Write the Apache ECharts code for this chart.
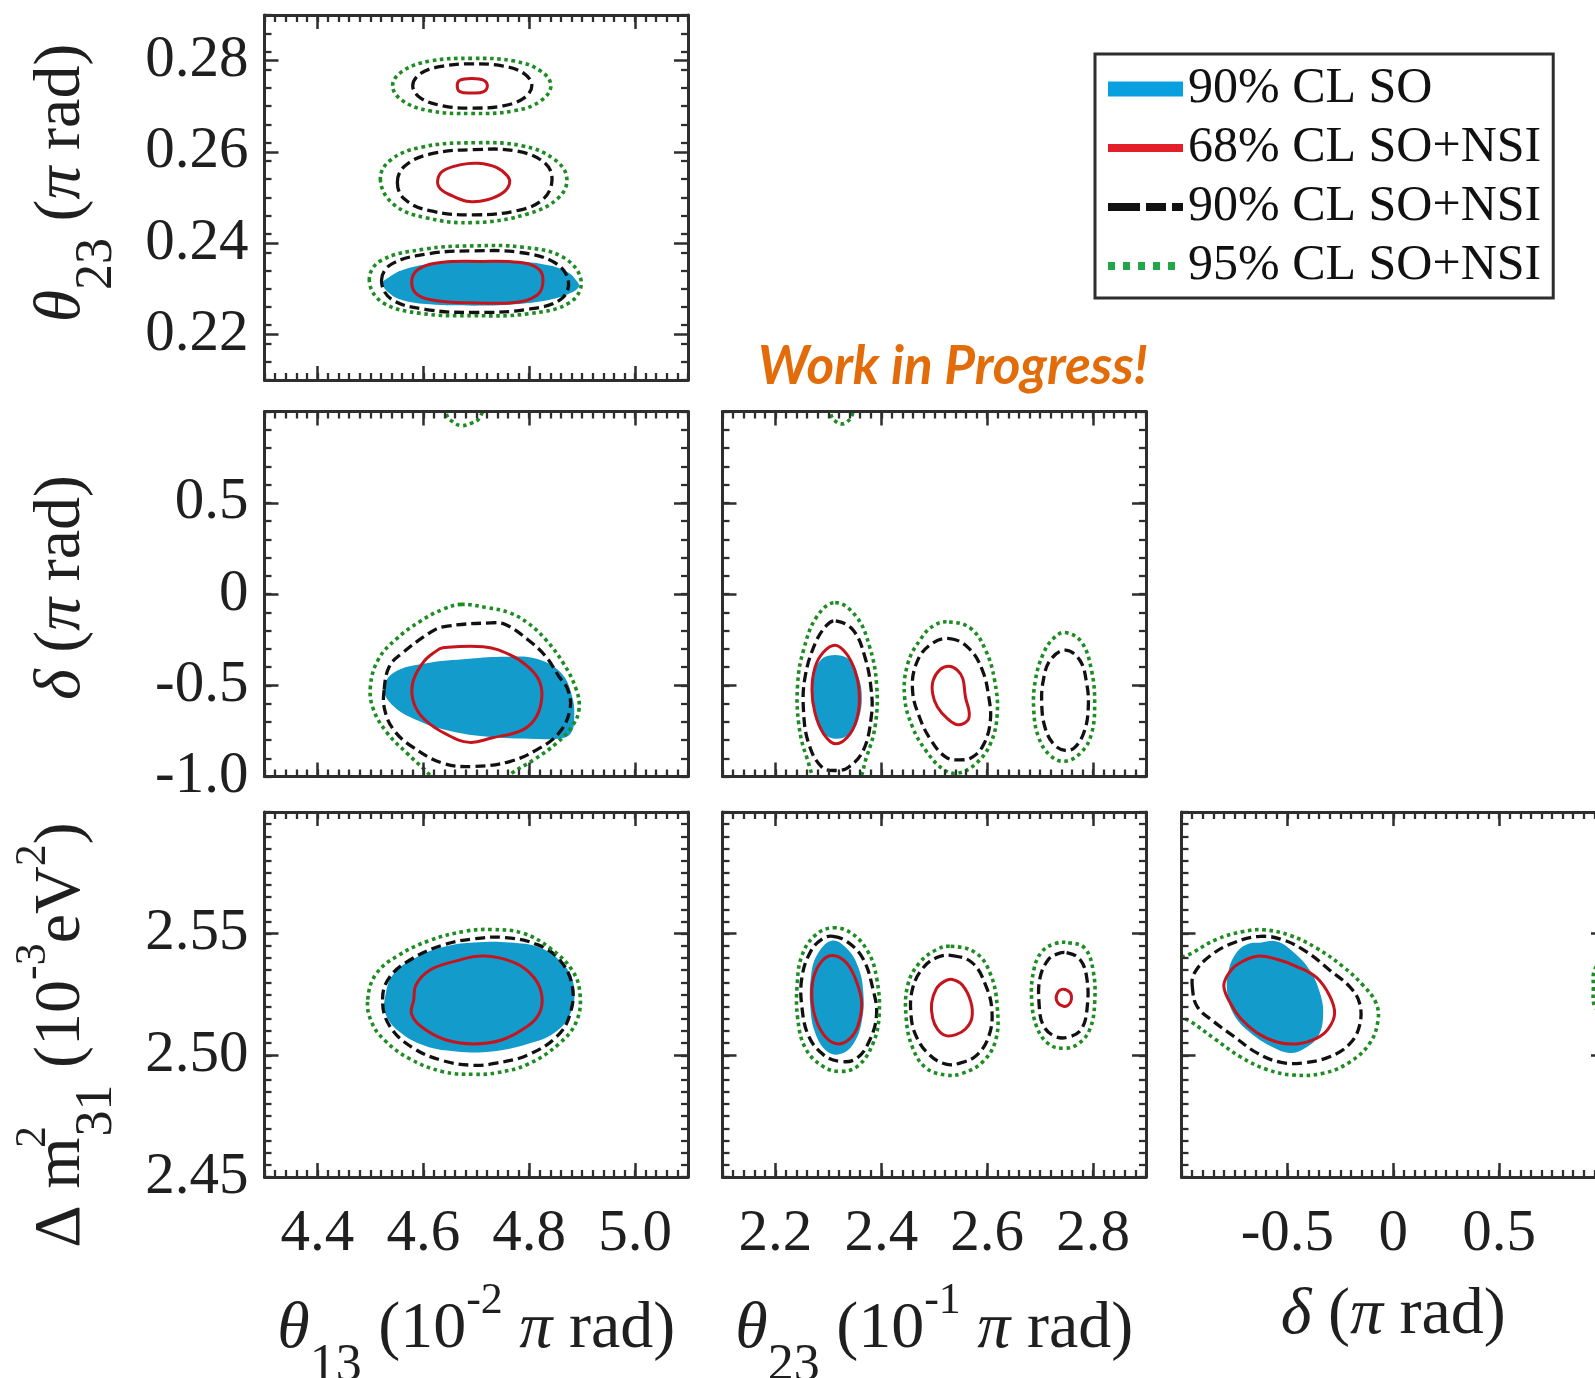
<!DOCTYPE html>
<html>
<head>
<meta charset="utf-8">
<title>Oscillation parameter correlations, SO vs SO+NSI</title>
<script src="https://cdn.jsdelivr.net/npm/echarts@6/dist/echarts.min.js"></script>
<style>
  html, body { margin: 0; padding: 0; background: #ffffff; }
  #chart { width: 1595px; height: 1378px; }
</style>
</head>
<body>
<div id="chart"></div>
<script>
// ---------------------------------------------------------------------------
// Axis ranges
// ---------------------------------------------------------------------------
const theta13Range = [4.3, 5.1];      // theta13 in 10^-2 pi rad
const theta23Range = [0.21, 0.29];    // theta23 in pi rad
const theta23TenthRange = [2.1, 2.9]; // theta23 in 10^-1 pi rad
const deltaRange = [-1, 1];           // delta in pi rad
const dm31Range = [2.45, 2.60];       // dm^2_31 in 10^-3 eV^2

// Major ticks and their labels
const theta13Ticks = [4.4, 4.6, 4.8, 5.0];
const theta13Labels = ['4.4', '4.6', '4.8', '5.0'];
const theta23Ticks = [0.22, 0.24, 0.26, 0.28];
const theta23Labels = ['0.22', '0.24', '0.26', '0.28'];
const theta23TenthTicks = [2.2, 2.4, 2.6, 2.8];
const theta23TenthLabels = ['2.2', '2.4', '2.6', '2.8'];
const deltaMajorTicks = [-1, -0.5, 0, 0.5, 1];
const deltaYLabelTicks = [-1, -0.5, 0, 0.5];
const deltaYLabels = ['-1.0', '-0.5', '0', '0.5'];
const deltaXLabelTicks = [-0.5, 0, 0.5];
const deltaXLabels = ['-0.5', '0', '0.5'];
const dm31MajorTicks = [2.45, 2.50, 2.55, 2.60];
const dm31LabelTicks = [2.45, 2.50, 2.55];
const dm31Labels = ['2.45', '2.50', '2.55'];

// Minor tick spacing per quantity
const theta13MinorStep = 0.02;
const theta23MinorStep = 0.004;
const theta23TenthMinorStep = 0.02;
const deltaYMinorStep = 0.1;
const deltaXMinorStep = 0.05;
const dm31MinorStep = 0.005;

// ---------------------------------------------------------------------------
// Confidence-region boundaries, [x, y] in axis units
// ---------------------------------------------------------------------------

// theta23 (pi rad) vs theta13 (10^-2 pi rad)
const t23t13_SO90 = [[4.523,0.2312],[4.536,0.2326],[4.561,0.2341],[4.612,0.2354],[4.696,0.2361],[4.780,0.2360],[4.839,0.2351],[4.873,0.2336],[4.889,0.2318],[4.894,0.2305],[4.877,0.2290],[4.839,0.2276],[4.772,0.2266],[4.696,0.2263],[4.612,0.2266],[4.561,0.2275],[4.536,0.2290]];
const t23t13_NSI68_low = [[4.578,0.2314],[4.591,0.2343],[4.637,0.2358],[4.704,0.2360],[4.780,0.2358],[4.818,0.2343],[4.826,0.2314],[4.814,0.2285],[4.772,0.2270],[4.704,0.2269],[4.637,0.2272],[4.591,0.2285]];
const t23t13_NSI68_mid = [[4.627,0.2537],[4.637,0.2558],[4.671,0.2572],[4.704,0.2575],[4.738,0.2566],[4.759,0.2547],[4.763,0.2531],[4.751,0.2511],[4.721,0.2495],[4.687,0.2491],[4.654,0.2504],[4.633,0.2518]];
const t23t13_NSI68_high = [[4.664,0.2745],[4.669,0.2757],[4.692,0.2761],[4.714,0.2757],[4.721,0.2745],[4.714,0.2732],[4.692,0.2729],[4.669,0.2732]];
const t23t13_NSI90_low = [[4.521,0.2318],[4.540,0.2354],[4.612,0.2377],[4.696,0.2383],[4.780,0.2380],[4.847,0.2358],[4.874,0.2318],[4.860,0.2277],[4.797,0.2255],[4.696,0.2248],[4.603,0.2255],[4.540,0.2277]];
const t23t13_NSI90_mid = [[4.551,0.2533],[4.565,0.2569],[4.612,0.2595],[4.696,0.2605],[4.780,0.2601],[4.831,0.2574],[4.843,0.2537],[4.826,0.2496],[4.780,0.2472],[4.696,0.2462],[4.612,0.2471],[4.565,0.2496]];
const t23t13_NSI90_high = [[4.580,0.2745],[4.595,0.2772],[4.637,0.2788],[4.692,0.2793],[4.751,0.2788],[4.790,0.2772],[4.805,0.2745],[4.790,0.2718],[4.751,0.2701],[4.692,0.2696],[4.637,0.2701],[4.595,0.2718]];
const t23t13_NSI95_low = [[4.498,0.2318],[4.519,0.2361],[4.603,0.2387],[4.696,0.2394],[4.788,0.2391],[4.864,0.2369],[4.898,0.2318],[4.877,0.2270],[4.797,0.2245],[4.696,0.2241],[4.595,0.2246],[4.523,0.2270]];
const t23t13_NSI95_mid = [[4.519,0.2537],[4.536,0.2580],[4.595,0.2610],[4.696,0.2620],[4.788,0.2613],[4.847,0.2584],[4.871,0.2544],[4.856,0.2500],[4.797,0.2464],[4.696,0.2445],[4.603,0.2456],[4.544,0.2485]];
const t23t13_NSI95_high = [[4.542,0.2745],[4.561,0.2777],[4.612,0.2799],[4.692,0.2805],[4.772,0.2799],[4.822,0.2777],[4.841,0.2745],[4.822,0.2712],[4.772,0.2690],[4.692,0.2684],[4.612,0.2690],[4.561,0.2712]];

// delta (pi rad) vs theta13 (10^-2 pi rad)
const dt13_SO90 = [[4.526,-0.524],[4.544,-0.432],[4.603,-0.381],[4.687,-0.355],[4.755,-0.344],[4.814,-0.355],[4.860,-0.432],[4.881,-0.560],[4.885,-0.690],[4.879,-0.762],[4.864,-0.789],[4.814,-0.795],[4.713,-0.780],[4.645,-0.747],[4.586,-0.689],[4.544,-0.615]];
const dt13_NSI68 = [[4.637,-0.295],[4.713,-0.289],[4.763,-0.332],[4.797,-0.396],[4.818,-0.469],[4.824,-0.560],[4.814,-0.670],[4.788,-0.744],[4.729,-0.789],[4.687,-0.813],[4.645,-0.771],[4.603,-0.689],[4.582,-0.597],[4.580,-0.487],[4.599,-0.377],[4.624,-0.313]];
const dt13_NSI90 = [[4.526,-0.524],[4.536,-0.396],[4.561,-0.322],[4.612,-0.213],[4.637,-0.180],[4.729,-0.158],[4.755,-0.167],[4.797,-0.249],[4.831,-0.341],[4.856,-0.451],[4.873,-0.524],[4.877,-0.634],[4.856,-0.762],[4.814,-0.854],[4.763,-0.918],[4.696,-0.945],[4.637,-0.927],[4.578,-0.835],[4.544,-0.744],[4.527,-0.634]];
const dt13_NSI95 = [[4.671,-0.057],[4.721,-0.075],[4.763,-0.103],[4.797,-0.158],[4.831,-0.249],[4.864,-0.377],[4.889,-0.524],[4.894,-0.634],[4.881,-0.725],[4.852,-0.817],[4.809,-0.908],[4.767,-0.982],[4.746,-1.04],[4.633,-1.04],[4.603,-0.963],[4.569,-0.872],[4.532,-0.762],[4.506,-0.634],[4.500,-0.506],[4.515,-0.359],[4.548,-0.249],[4.595,-0.148],[4.637,-0.084]];
const dt13_NSI95_wrap = [[4.641,1.06],[4.645,0.975],[4.655,0.945],[4.671,0.923],[4.690,0.935],[4.706,0.965],[4.714,1.06]];

// delta (pi rad) vs theta23 (10^-1 pi rad)
const dt23_SO90 = [[2.269,-0.546],[2.273,-0.436],[2.284,-0.367],[2.300,-0.339],[2.325,-0.339],[2.344,-0.372],[2.356,-0.446],[2.363,-0.546],[2.359,-0.665],[2.344,-0.757],[2.317,-0.793],[2.292,-0.766],[2.277,-0.674]];
const dt23_NSI68_low = [[2.313,-0.281],[2.334,-0.327],[2.350,-0.418],[2.358,-0.528],[2.356,-0.656],[2.341,-0.766],[2.314,-0.821],[2.291,-0.766],[2.275,-0.656],[2.269,-0.528],[2.275,-0.400],[2.291,-0.318]];
const dt23_NSI68_mid = [[2.528,-0.396],[2.544,-0.418],[2.554,-0.464],[2.559,-0.565],[2.566,-0.647],[2.563,-0.693],[2.544,-0.716],[2.525,-0.683],[2.506,-0.619],[2.497,-0.546],[2.498,-0.473],[2.511,-0.414]];
const dt23_NSI90_low = [[2.314,-0.147],[2.347,-0.199],[2.369,-0.345],[2.381,-0.528],[2.381,-0.674],[2.366,-0.857],[2.338,-0.949],[2.316,-0.967],[2.288,-0.949],[2.263,-0.821],[2.253,-0.638],[2.256,-0.455],[2.275,-0.272],[2.297,-0.171]];
const dt23_NSI90_mid = [[2.529,-0.244],[2.566,-0.299],[2.591,-0.418],[2.603,-0.565],[2.606,-0.693],[2.594,-0.821],[2.572,-0.894],[2.547,-0.909],[2.522,-0.894],[2.494,-0.802],[2.472,-0.674],[2.459,-0.528],[2.466,-0.382],[2.491,-0.281]];
const dt23_NSI90_high = [[2.747,-0.308],[2.775,-0.363],[2.788,-0.491],[2.791,-0.619],[2.784,-0.748],[2.766,-0.839],[2.747,-0.857],[2.725,-0.821],[2.709,-0.729],[2.703,-0.601],[2.706,-0.473],[2.719,-0.363]];
const dt23_NSI95_low = [[2.313,-0.047],[2.353,-0.125],[2.378,-0.290],[2.391,-0.491],[2.389,-0.711],[2.372,-0.894],[2.350,-1.04],[2.284,-1.04],[2.259,-0.894],[2.244,-0.711],[2.242,-0.491],[2.253,-0.308],[2.278,-0.125]];
const dt23_NSI95_lowWrap = [[2.303,1.06],[2.306,0.973],[2.316,0.941],[2.325,0.932],[2.334,0.941],[2.344,0.973],[2.347,1.06]];
const dt23_NSI95_mid = [[2.528,-0.153],[2.569,-0.189],[2.597,-0.308],[2.614,-0.473],[2.619,-0.656],[2.606,-0.821],[2.578,-0.931],[2.544,-0.982],[2.516,-0.958],[2.484,-0.857],[2.459,-0.729],[2.444,-0.565],[2.450,-0.382],[2.475,-0.244],[2.500,-0.171]];
const dt23_NSI95_high = [[2.747,-0.211],[2.778,-0.263],[2.797,-0.418],[2.803,-0.601],[2.797,-0.766],[2.778,-0.866],[2.747,-0.916],[2.719,-0.885],[2.697,-0.784],[2.688,-0.638],[2.691,-0.473],[2.706,-0.327],[2.725,-0.244]];

// dm^2_31 (10^-3 eV^2) vs theta13 (10^-2 pi rad)
const mt13_SO90 = [[4.527,2.5229],[4.544,2.5335],[4.595,2.5411],[4.645,2.5449],[4.696,2.5464],[4.763,2.5464],[4.822,2.5441],[4.868,2.5365],[4.885,2.5274],[4.877,2.5168],[4.847,2.5092],[4.797,2.5047],[4.729,2.5016],[4.662,2.5016],[4.603,2.5039],[4.553,2.5100],[4.529,2.5168]];
const mt13_NSI68 = [[4.586,2.5289],[4.612,2.5350],[4.662,2.5388],[4.713,2.5408],[4.772,2.5381],[4.809,2.5320],[4.824,2.5244],[4.818,2.5168],[4.788,2.5107],[4.746,2.5062],[4.696,2.5047],[4.645,2.5062],[4.603,2.5107],[4.578,2.5168],[4.582,2.5229]];
const mt13_NSI90 = [[4.523,2.5229],[4.536,2.5320],[4.578,2.5396],[4.637,2.5453],[4.696,2.5479],[4.755,2.5484],[4.814,2.5456],[4.856,2.5396],[4.881,2.5289],[4.877,2.5168],[4.852,2.5077],[4.797,2.5001],[4.738,2.4968],[4.696,2.4959],[4.637,2.4978],[4.578,2.5034],[4.536,2.5122]];
const mt13_NSI95 = [[4.495,2.5229],[4.511,2.5335],[4.553,2.5411],[4.612,2.5472],[4.679,2.5510],[4.729,2.5517],[4.788,2.5502],[4.839,2.5441],[4.881,2.5350],[4.896,2.5252],[4.889,2.5138],[4.856,2.5047],[4.797,2.4963],[4.738,2.4928],[4.696,2.4922],[4.637,2.4933],[4.574,2.4986],[4.527,2.5062],[4.502,2.5138]];

// dm^2_31 (10^-3 eV^2) vs theta23 (10^-1 pi rad)
const mt23_SO90 = [[2.306,2.5471],[2.334,2.5441],[2.356,2.5365],[2.366,2.5259],[2.363,2.5138],[2.347,2.5047],[2.322,2.5005],[2.297,2.5017],[2.275,2.5093],[2.266,2.5199],[2.267,2.5320],[2.278,2.5410]];
const mt23_NSI68_low = [[2.309,2.5410],[2.334,2.5380],[2.353,2.5304],[2.363,2.5214],[2.356,2.5123],[2.341,2.5070],[2.319,2.5047],[2.297,2.5070],[2.278,2.5138],[2.269,2.5229],[2.272,2.5320],[2.288,2.5388]];
const mt23_NSI68_mid = [[2.534,2.5312],[2.553,2.5289],[2.569,2.5221],[2.571,2.5153],[2.559,2.5108],[2.541,2.5085],[2.522,2.5081],[2.506,2.5108],[2.497,2.5153],[2.495,2.5214],[2.504,2.5274],[2.519,2.5304]];
const mt23_NSI68_high = [[2.741,2.5271],[2.756,2.5259],[2.759,2.5229],[2.753,2.5206],[2.744,2.5202],[2.733,2.5217],[2.731,2.5247]];
const mt23_NSI90_low = [[2.309,2.5489],[2.338,2.5463],[2.366,2.5395],[2.384,2.5274],[2.391,2.5168],[2.378,2.5062],[2.353,2.4987],[2.322,2.4975],[2.291,2.5002],[2.263,2.5078],[2.250,2.5199],[2.250,2.5320],[2.266,2.5425],[2.288,2.5478]];
const mt23_NSI90_mid = [[2.534,2.5410],[2.572,2.5380],[2.597,2.5289],[2.609,2.5183],[2.603,2.5078],[2.581,2.5002],[2.550,2.4969],[2.522,2.4964],[2.491,2.5002],[2.466,2.5078],[2.456,2.5168],[2.459,2.5274],[2.478,2.5357],[2.506,2.5403]];
const mt23_NSI90_high = [[2.750,2.5422],[2.775,2.5395],[2.788,2.5320],[2.789,2.5199],[2.778,2.5108],[2.753,2.5075],[2.728,2.5078],[2.706,2.5123],[2.698,2.5214],[2.700,2.5320],[2.716,2.5395],[2.734,2.5418]];
const mt23_NSI95_low = [[2.309,2.5524],[2.344,2.5501],[2.375,2.5425],[2.391,2.5320],[2.396,2.5168],[2.384,2.5047],[2.356,2.4957],[2.322,2.4934],[2.288,2.4957],[2.256,2.5032],[2.242,2.5153],[2.241,2.5289],[2.250,2.5410],[2.275,2.5493]];
const mt23_NSI95_mid = [[2.531,2.5448],[2.578,2.5422],[2.606,2.5335],[2.619,2.5199],[2.616,2.5062],[2.591,2.4972],[2.553,2.4926],[2.522,2.4919],[2.484,2.4949],[2.459,2.5032],[2.447,2.5153],[2.450,2.5289],[2.472,2.5380],[2.503,2.5433]];
const mt23_NSI95_high = [[2.753,2.5463],[2.784,2.5441],[2.800,2.5350],[2.803,2.5214],[2.794,2.5108],[2.772,2.5047],[2.744,2.5029],[2.716,2.5047],[2.694,2.5115],[2.684,2.5229],[2.688,2.5350],[2.703,2.5425],[2.728,2.5459]];

// dm^2_31 (10^-3 eV^2) vs delta (pi rad)
const md_SO90 = [[-0.628,2.5463],[-0.550,2.5468],[-0.472,2.5425],[-0.394,2.5350],[-0.347,2.5259],[-0.331,2.5168],[-0.355,2.5078],[-0.425,2.5025],[-0.488,2.5010],[-0.566,2.5032],[-0.675,2.5093],[-0.753,2.5168],[-0.784,2.5259],[-0.777,2.5350],[-0.738,2.5425],[-0.683,2.5459]];
const md_NSI68 = [[-0.800,2.5282],[-0.784,2.5327],[-0.738,2.5372],[-0.644,2.5407],[-0.550,2.5395],[-0.456,2.5365],[-0.363,2.5320],[-0.300,2.5244],[-0.277,2.5171],[-0.308,2.5108],[-0.363,2.5070],[-0.456,2.5047],[-0.550,2.5055],[-0.644,2.5093],[-0.722,2.5153],[-0.769,2.5214]];
const md_NSI90 = [[-0.948,2.5274],[-0.941,2.5335],[-0.863,2.5410],[-0.753,2.5463],[-0.628,2.5489],[-0.519,2.5474],[-0.409,2.5425],[-0.300,2.5350],[-0.206,2.5282],[-0.159,2.5214],[-0.159,2.5123],[-0.206,2.5047],[-0.300,2.4994],[-0.425,2.4969],[-0.534,2.4972],[-0.644,2.5010],[-0.753,2.5078],[-0.847,2.5138],[-0.925,2.5199]];
const md_NSI95 = [[-1.05,2.5365],[-0.941,2.5425],[-0.831,2.5478],[-0.706,2.5509],[-0.613,2.5516],[-0.488,2.5493],[-0.363,2.5441],[-0.238,2.5365],[-0.144,2.5289],[-0.081,2.5214],[-0.073,2.5138],[-0.113,2.5047],[-0.206,2.4972],[-0.331,2.4926],[-0.472,2.4919],[-0.597,2.4942],[-0.722,2.4994],[-0.847,2.5070],[-0.956,2.5138],[-1.05,2.5183]];
const md_NSI95_wrap = [[1.05,2.5388],[0.960,2.5365],[0.945,2.5280],[0.960,2.5190],[1.05,2.5176]];

// ---------------------------------------------------------------------------
// Styling
// ---------------------------------------------------------------------------
const SERIF = '"Liberation Serif", "Times New Roman", Times, serif';
const INK = '#1f1f1f';
const FRAME = '#2e2e2e';
const FILL_BLUE = '#139bcc';
const LINE_RED = '#c5141c';
const LINE_BLACK = '#111111';
const LINE_GREEN = '#1d8c22';

const NAMES = {
  so90: '90% CL SO',
  nsi68: '68% CL SO+NSI',
  nsi90: '90% CL SO+NSI',
  nsi95: '95% CL SO+NSI'
};

const CONTOUR_STYLE = {
  so90:  { z: 2, smooth: 0.4, style: { fill: FILL_BLUE, stroke: null } },
  nsi68: { z: 4, smooth: 0.4, style: { fill: 'none', stroke: LINE_RED, lineWidth: 3 } },
  nsi90: { z: 5, smooth: 0.4, style: { fill: 'none', stroke: LINE_BLACK, lineWidth: 3.3, lineDash: [10, 5] } },
  nsi95: { z: 6, smooth: 0.4, style: { fill: 'none', stroke: LINE_GREEN, lineWidth: 3.6, lineDash: [3.6, 3.6] } }
};
const SERIES_COLOR = { so90: FILL_BLUE, nsi68: LINE_RED, nsi90: LINE_BLACK, nsi95: LINE_GREEN };

// Panel frames (pixels)
const COL_LEFT = [264.5, 722.5, 1181.5];
const ROW_TOP = [15, 411.5, 812];
const PANEL_W = 423.5;
const PANEL_H = 365;

// Rich-text pieces for axis titles (sub/superscripts)
const NAME_RICH = {
  n:    { fontFamily: SERIF, fontSize: 66, lineHeight: 130, verticalAlign: 'middle', color: INK },
  i:    { fontFamily: SERIF, fontSize: 66, lineHeight: 130, verticalAlign: 'middle', fontStyle: 'italic', color: INK },
  sub:  { fontFamily: SERIF, fontSize: 52, lineHeight: 52, verticalAlign: 'top', padding: [75, 0, 0, 0], color: INK },
  sup:  { fontFamily: SERIF, fontSize: 44, lineHeight: 44, verticalAlign: 'top', padding: [15, 0, 0, 0], color: INK },
  supk: { fontFamily: SERIF, fontSize: 44, lineHeight: 44, verticalAlign: 'top', padding: [15, 0, 0, 0], width: 1, color: INK }
};

const AXES = {
  th13:  { range: theta13Range, majors: theta13Ticks, minorStep: theta13MinorStep, labelTicks: theta13Ticks, labels: theta13Labels },
  th23:  { range: theta23Range, majors: theta23Ticks, minorStep: theta23MinorStep, labelTicks: theta23Ticks, labels: theta23Labels },
  th23t: { range: theta23TenthRange, majors: theta23TenthTicks, minorStep: theta23TenthMinorStep, labelTicks: theta23TenthTicks, labels: theta23TenthLabels },
  dY:    { range: deltaRange, majors: deltaMajorTicks, minorStep: deltaYMinorStep, labelTicks: deltaYLabelTicks, labels: deltaYLabels },
  dX:    { range: deltaRange, majors: deltaMajorTicks, minorStep: deltaXMinorStep, labelTicks: deltaXLabelTicks, labels: deltaXLabels },
  dm:    { range: dm31Range, majors: dm31MajorTicks, minorStep: dm31MinorStep, labelTicks: dm31LabelTicks, labels: dm31Labels }
};

const X_NAME = {
  th13:  '{i|θ}{sub|13}{n| (10}{sup|-2}{n| }{i|π}{n| rad)}',
  th23t: '{i|θ}{sub|23}{n| (10}{sup|-1}{n| }{i|π}{n| rad)}',
  dX:    '{i|δ}{n| (}{i|π}{n| rad)}'
};
const Y_NAME = {
  th23: { text: '{i|θ}{sub|23}{n| (}{i|π}{n| rad)}', padding: [0, 0, 0, 29] },
  dY:   { text: '{i|δ}{n| (}{i|π}{n| rad)}', padding: [0, 0, 0, 13] },
  dm:   { text: '{n|Δ m}{supk|2}{sub|31}{n| (10}{sup|-3}{n|eV}{sup|2}{n|)}', padding: [0, 81, 0, 0] }
};

// Panel layout: grid index -> column/row and which quantities sit on each axis
const PANELS = [
  { col: 0, row: 0, x: 'th13',  y: 'th23', xLabels: false, yLabels: true },
  { col: 0, row: 1, x: 'th13',  y: 'dY',   xLabels: false, yLabels: true },
  { col: 1, row: 1, x: 'th23t', y: 'dY',   xLabels: false, yLabels: false },
  { col: 0, row: 2, x: 'th13',  y: 'dm',   xLabels: true,  yLabels: true },
  { col: 1, row: 2, x: 'th23t', y: 'dm',   xLabels: true,  yLabels: false },
  { col: 2, row: 2, x: 'dX',    y: 'dm',   xLabels: true,  yLabels: false }
];

// Which boundaries belong to which panel
const PANEL_CONTOURS = [
  [['so90', t23t13_SO90], ['nsi68', t23t13_NSI68_low], ['nsi68', t23t13_NSI68_mid], ['nsi68', t23t13_NSI68_high],
   ['nsi90', t23t13_NSI90_low], ['nsi90', t23t13_NSI90_mid], ['nsi90', t23t13_NSI90_high],
   ['nsi95', t23t13_NSI95_low], ['nsi95', t23t13_NSI95_mid], ['nsi95', t23t13_NSI95_high]],
  [['so90', dt13_SO90], ['nsi68', dt13_NSI68], ['nsi90', dt13_NSI90], ['nsi95', dt13_NSI95], ['nsi95', dt13_NSI95_wrap]],
  [['so90', dt23_SO90], ['nsi68', dt23_NSI68_low], ['nsi68', dt23_NSI68_mid],
   ['nsi90', dt23_NSI90_low], ['nsi90', dt23_NSI90_mid], ['nsi90', dt23_NSI90_high],
   ['nsi95', dt23_NSI95_low], ['nsi95', dt23_NSI95_lowWrap], ['nsi95', dt23_NSI95_mid], ['nsi95', dt23_NSI95_high]],
  [['so90', mt13_SO90], ['nsi68', mt13_NSI68], ['nsi90', mt13_NSI90], ['nsi95', mt13_NSI95]],
  [['so90', mt23_SO90], ['nsi68', mt23_NSI68_low], ['nsi68', mt23_NSI68_mid], ['nsi68', mt23_NSI68_high],
   ['nsi90', mt23_NSI90_low], ['nsi90', mt23_NSI90_mid], ['nsi90', mt23_NSI90_high],
   ['nsi95', mt23_NSI95_low], ['nsi95', mt23_NSI95_mid], ['nsi95', mt23_NSI95_high]],
  [['so90', md_SO90], ['nsi68', md_NSI68], ['nsi90', md_NSI90], ['nsi95', md_NSI95], ['nsi95', md_NSI95_wrap]]
];

// ---------------------------------------------------------------------------
// Helpers
// ---------------------------------------------------------------------------
function minorTicks(range, step) {
  const n = Math.round((range[1] - range[0]) / step);
  const out = [];
  for (let k = 0; k <= n; k++) out.push(+(range[0] + k * step).toFixed(6));
  return out;
}

function labelFormatter(ticks, labels) {
  return function (v) {
    const i = ticks.findIndex(t => Math.abs(t - v) < 1e-7);
    return i < 0 ? '' : labels[i];
  };
}

// Two axes per side: major (frame line + long ticks) and minor (short ticks)
function buildAxes(dim, gridIndex, key, showLabels, nameSpec) {
  const spec = AXES[key];
  const sides = dim === 'x' ? ['bottom', 'top'] : ['left', 'right'];
  const out = [];
  sides.forEach((pos, s) => {
    const labelled = showLabels && s === 0;
    const major = {
      type: 'value', gridIndex, position: pos, min: spec.range[0], max: spec.range[1], z: 10,
      splitLine: { show: false },
      axisLine: { show: true, onZero: false, lineStyle: { color: FRAME, width: 3 } },
      axisTick: { show: true, inside: true, length: 14, customValues: spec.majors, lineStyle: { color: FRAME, width: 2.5 } },
      axisLabel: labelled ? {
        show: true, customValues: spec.labelTicks, formatter: labelFormatter(spec.labelTicks, spec.labels),
        fontFamily: SERIF, fontSize: 59, color: INK, margin: dim === 'x' ? 28 : 16
      } : { show: false }
    };
    if (s === 0 && nameSpec) {
      Object.assign(major, nameSpec);
    }
    const minor = {
      type: 'value', gridIndex, position: pos, min: spec.range[0], max: spec.range[1], z: 10,
      splitLine: { show: false },
      axisLine: { show: false, onZero: false },
      axisTick: { show: true, inside: true, length: 7, customValues: minorTicks(spec.range, spec.minorStep), lineStyle: { color: FRAME, width: 2.3 } },
      axisLabel: { show: false }
    };
    out.push(major, minor);
  });
  return out;
}

function drawBoundary(kind) {
  const cfg = CONTOUR_STYLE[kind];
  return function (params, api) {
    if (params.dataIndexInside !== 0) return null;
    const pts = [];
    for (let i = 0; i < params.dataInsideLength; i++) {
      pts.push(api.coord([api.value(0, i), api.value(1, i)]));
    }
    return { type: 'polygon', shape: { points: pts, smooth: cfg.smooth }, style: Object.assign({}, cfg.style) };
  };
}

// ---------------------------------------------------------------------------
// Option assembly
// ---------------------------------------------------------------------------
const grids = [], xAxes = [], yAxes = [], series = [];

PANELS.forEach((p, g) => {
  grids.push({
    left: COL_LEFT[p.col], top: ROW_TOP[p.row], width: PANEL_W, height: PANEL_H,
    containLabel: false, outerBoundsMode: 'none'
  });

  const xName = p.xLabels ? {
    name: X_NAME[p.x], nameLocation: 'middle', nameGap: 74,
    nameTextStyle: { rich: NAME_RICH }
  } : null;
  const yName = p.yLabels ? {
    name: Y_NAME[p.y].text, nameLocation: 'middle', nameRotate: 90, nameGap: 138,
    nameTextStyle: { rich: NAME_RICH, padding: Y_NAME[p.y].padding }
  } : null;

  xAxes.push(...buildAxes('x', g, p.x, p.xLabels, xName));
  yAxes.push(...buildAxes('y', g, p.y, p.yLabels, yName));

  PANEL_CONTOURS[g].forEach(([kind, pts]) => {
    series.push({
      type: 'custom',
      name: NAMES[kind],
      coordinateSystem: 'cartesian2d',
      xAxisIndex: g * 4,
      yAxisIndex: g * 4,
      clip: true,
      silent: true,
      z: CONTOUR_STYLE[kind].z,
      itemStyle: { color: SERIES_COLOR[kind] },
      data: pts,
      renderItem: drawBoundary(kind)
    });
  });
});

// Legend swatches: every path spans the same 75x15 box
const LEGEND_ICON = {
  so90:  'path://M0,0H75V15H0Z',
  nsi68: 'path://M0,0M75,15M0,3.5H75V11.5H0Z',
  nsi90: 'path://M0,0M75,15M0,3.5H32V11.5H0Z M38,3.5H58V11.5H38Z M64,3.5H75V11.5H64Z',
  nsi95: 'path://M0,0M75,15M0,3.5H7V11.5H0Z M15,3.5H22V11.5H15Z M30,3.5H37V11.5H30Z M45,3.5H52V11.5H45Z M60,3.5H67V11.5H60Z'
};
const LEGEND_COLOR = { so90: '#0a9fdf', nsi68: '#e3202a', nsi90: '#111111', nsi95: '#22a64a' };

const option = {
  animation: false,
  backgroundColor: '#ffffff',
  textStyle: { fontFamily: SERIF },
  title: {
    text: 'Work in Progress!',
    left: 758, top: 340, padding: 0,
    textStyle: { fontFamily: 'Lato, "Open Sans", sans-serif', fontStyle: 'italic', fontWeight: 'bold', fontSize: 53, color: '#e36c0a' }
  },
  legend: {
    orient: 'vertical',
    left: 1095, top: 54,
    padding: [10, 12, 7, 13],
    itemWidth: 75, itemHeight: 15, itemGap: 9,
    borderColor: '#2e2e2e', borderWidth: 3,
    selectedMode: false,
    textStyle: { fontFamily: SERIF, fontSize: 50, color: '#111111', lineHeight: 50 },
    data: ['so90', 'nsi68', 'nsi90', 'nsi95'].map(k => ({
      name: NAMES[k], icon: LEGEND_ICON[k], itemStyle: { color: LEGEND_COLOR[k], borderWidth: 0 }
    }))
  },
  grid: grids,
  xAxis: xAxes,
  yAxis: yAxes,
  series: series
};

const chart = echarts.init(document.getElementById('chart'), null, { renderer: 'canvas' });
chart.setOption(option);
</script>
</body>
</html>
